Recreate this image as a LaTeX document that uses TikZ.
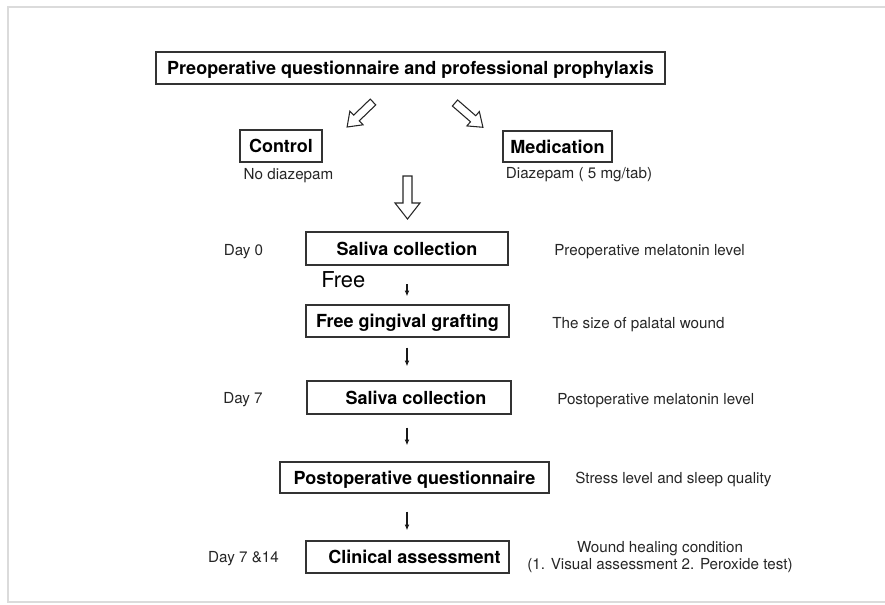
\documentclass[tikz,border=0pt]{standalone}
\usepackage{fontspec}
\setmainfont{TeX Gyre Heros}
\usetikzlibrary{arrows.meta}
% #1 tail coordinate, #2 angle, #3 length, #4 shaft half width, #5 head half width, #6 head length
\newcommand{\openarrowdraw}[6]{%
  \draw[openarr, shift={(#1)}, rotate=#2]
    (0,-#4) -- ({#3-#6},-#4) -- ({#3-#6},-#5) -- (#3,0) -- ({#3-#6},#5) -- ({#3-#6},#4) -- (0,#4) -- cycle;}
\begin{document}
\begin{tikzpicture}[x=0.75pt,y=-0.75pt,
  box/.style={draw=black!80, line width=1.1pt, inner sep=0pt,
    font=\fontsize{13.5}{16}\selectfont\bfseries, text height=10.4pt, text depth=0.6pt},
  lbl/.style={inner sep=0pt, font=\fontsize{11.4}{13.7}\selectfont, text=black!85},
  smallarr/.style={-{Latex[length=4.2pt,width=3.6pt]}, line width=0.8pt, draw=black!90},
  openarr/.style={draw=black!85, line width=0.8pt, fill=white, line join=miter}]
\useasboundingbox (0,0) rectangle (885,604);
\draw[black!14, line width=1.5pt] (885,7) -- (8,7) -- (8,602) -- (885,602);

% boxes
\node[box, minimum width=381.75pt, minimum height=24pt] (top) at (410.5,68)
  {Preoperative questionnaire and professional prophylaxis};
\node[box, minimum width=61.5pt, minimum height=24pt] (ctrl) at (281,146) {Control};
\node[box, minimum width=81.75pt, minimum height=23.25pt] (med) at (557.5,146.5) {Medication};
\node[box, minimum width=151.5pt, minimum height=24.75pt] (sal1) at (407,248.5) {Saliva collection};
\node[box, minimum width=152.25pt, minimum height=24pt] (fgg) at (407.5,321) {Free gingival grafting};
\node[box, minimum width=153pt, minimum height=24.75pt] (sal2) at (409,397.5) {\hspace*{10.5pt}Saliva collection};
\node[box, minimum width=201.75pt, minimum height=23.25pt] (pq) at (414.5,477.5) {Postoperative questionnaire};
\node[box, minimum width=152.25pt, minimum height=24pt] (clin) at (407.5,557) {\hspace*{10.5pt}Clinical assessment};

% side labels
\node[lbl, anchor=mid] (nod) at (288.5,176) {No diazepam};
\node[lbl, anchor=mid] (diaz) at (579,175) {Diazepam ( 5 mg/tab)};
\node[lbl, anchor=mid] (d0) at (243.5,252) {Day 0};
\node[lbl, anchor=mid west] (pre) at (554,252) {Preoperative melatonin level};
\node[lbl, anchor=mid west, font=\fontsize{16.4}{19}\selectfont, text=black] (free) at (321,283.5) {Free};
\node[lbl, anchor=mid west] (size) at (552,325) {The size of palatal wound};
\node[lbl, anchor=mid] (d7) at (243,400) {Day 7};
\node[lbl, anchor=mid west] (post) at (557,401) {Postoperative melatonin level};
\node[lbl, anchor=mid west] (stress) at (575,480) {Stress level and sleep quality};
\node[lbl, anchor=mid] (d714) at (243.5,559) {Day 7 \&14};
\node[lbl, align=center, font=\fontsize{11.4}{12.8}\selectfont] (wound) at (660,557)
  {Wound healing condition\\(1. Visual assessment 2. Peroxide test)};

% open block arrows
\coordinate (la) at (373,102);
\coordinate (ra) at (455,103);
\coordinate (ba) at (407.5,176);
\openarrowdraw{la}{224}{36}{4}{9.5}{13}
\openarrowdraw{ra}{319}{37}{4}{9.5}{13}
\openarrowdraw{ba}{270}{43}{4.5}{12.5}{16}

% small arrows
\coordinate (ax) at (407,0);
\draw[smallarr, shorten <=14pt, shorten >=6pt] (sal1.south -| ax) -- (fgg.north -| ax);
\draw[smallarr, shorten <=7.5pt, shorten >=10.5pt] (fgg.south -| ax) -- (sal2.north -| ax);
\draw[smallarr, shorten <=9.75pt, shorten >=12pt] (sal2.south -| ax) -- (pq.north -| ax);
\draw[smallarr, shorten <=13.5pt, shorten >=7.5pt] (pq.south -| ax) -- (clin.north -| ax);
\end{tikzpicture}
\end{document}
